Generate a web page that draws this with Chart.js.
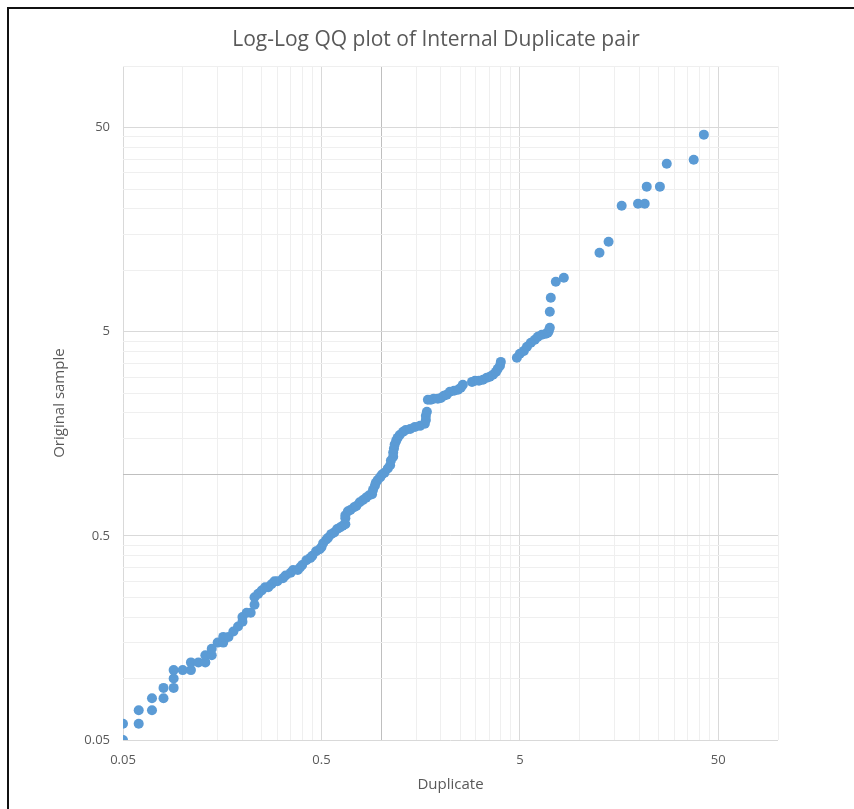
<!DOCTYPE html>
<html>
<head>
<meta charset="utf-8">
<title>Log-Log QQ plot</title>
<script src="https://cdn.jsdelivr.net/npm/chart.js@4.4.1/dist/chart.umd.min.js"></script>
<style>
    body { margin: 0; background: #fff; }
    .wrap { position: relative; width: 854px; height: 809px; overflow: hidden; }
    .frame { position: absolute; left: 7px; top: 7px; width: 900px; height: 900px;
             border-left: 2px solid #111; border-top: 2px solid #111; pointer-events: none; }
    canvas { position: absolute; left: 0; top: 0; }
</style>
</head>
<body>
<div class="wrap">
    <canvas id="qq" width="854" height="809"></canvas>
    <div class="frame"></div>
</div>
<script>
// quantiles (x = Duplicate, y = Original sample)
const duplicate = [
    0.05, 0.05, 0.06, 0.06, 0.07, 0.07, 0.08, 0.08, 0.09, 0.09,
    0.09, 0.10, 0.11, 0.11, 0.12, 0.13, 0.13, 0.14, 0.14, 0.15,
    0.16, 0.16, 0.17, 0.18, 0.19, 0.20, 0.20, 0.21, 0.22, 0.23,
    0.23, 0.24, 0.25, 0.26, 0.27, 0.28, 0.29, 0.30, 0.32, 0.33,
    0.35, 0.36, 0.38, 0.39, 0.40, 0.42, 0.44, 0.45, 0.47, 0.49,
    0.50, 0.51, 0.53, 0.54, 0.56, 0.58, 0.60, 0.62, 0.64, 0.66,
    0.66, 0.66, 0.68, 0.70, 0.73, 0.75, 0.78, 0.81, 0.84, 0.87,
    0.90, 0.91, 0.93, 0.94, 0.96, 0.99, 1.01, 1.04, 1.08, 1.11,
    1.12, 1.15, 1.15, 1.16, 1.17, 1.19, 1.21, 1.24, 1.29, 1.33,
    1.40, 1.48, 1.57, 1.66, 1.68, 1.68, 1.70, 1.72, 1.78, 1.84,
    1.93, 2.00, 2.07, 2.14, 2.22, 2.33, 2.44, 2.52, 2.58, 2.87,
    2.97, 3.11, 3.26, 3.41, 3.53, 3.66, 3.79, 3.87, 3.97, 4.01,
    4.83, 5.00, 5.24, 5.43, 5.68, 5.95, 6.16, 6.45, 6.76, 6.92,
    7.00, 7.08, 7.08, 7.16, 7.59, 8.33, 12.6, 14.0, 16.3, 19.7,
    21.3, 21.8, 25.4, 27.5, 37.6, 42.3
];
const originalSample = [
    0.05, 0.06, 0.06, 0.07, 0.07, 0.08, 0.08, 0.09, 0.09, 0.10,
    0.11, 0.11, 0.11, 0.12, 0.12, 0.12, 0.13, 0.13, 0.14, 0.15,
    0.15, 0.16, 0.16, 0.17, 0.18, 0.19, 0.20, 0.21, 0.21, 0.23,
    0.25, 0.26, 0.27, 0.28, 0.28, 0.29, 0.30, 0.30, 0.31, 0.32,
    0.33, 0.34, 0.34, 0.35, 0.36, 0.38, 0.39, 0.40, 0.42, 0.43,
    0.44, 0.46, 0.48, 0.49, 0.51, 0.52, 0.54, 0.55, 0.56, 0.57,
    0.61, 0.63, 0.66, 0.67, 0.69, 0.70, 0.73, 0.75, 0.77, 0.79,
    0.80, 0.84, 0.88, 0.91, 0.94, 0.97, 1.00, 1.02, 1.07, 1.11,
    1.17, 1.22, 1.28, 1.34, 1.40, 1.46, 1.51, 1.56, 1.62, 1.65,
    1.67, 1.71, 1.73, 1.77, 1.85, 1.94, 2.03, 2.32, 2.32, 2.35,
    2.35, 2.37, 2.43, 2.46, 2.54, 2.57, 2.60, 2.66, 2.75, 2.84,
    2.88, 2.88, 2.91, 2.98, 3.01, 3.08, 3.18, 3.29, 3.41, 3.56,
    3.73, 3.90, 4.03, 4.22, 4.42, 4.57, 4.73, 4.83, 4.89, 4.94,
    5.06, 5.23, 6.27, 7.34, 8.79, 9.20, 12.2, 13.8, 20.7, 21.2,
    21.2, 25.7, 25.7, 33.3, 34.8, 46.2
];

// labelled ticks, shared by both axes
const majorTicks = [0.05, 0.5, 5, 50];
const axisMin = 0.05;
const axisMax = 100;
const axisCross = 1;

document.addEventListener('DOMContentLoaded', () => {
    // gridlines: every multiple of the labelled tick inside each decade
    const gridValues = [];
    majorTicks.forEach(d => {
        for (let k = 1; k <= 9; k++) {
            const v = Number((d * k).toPrecision(6));
            if (v <= axisMax) gridValues.push(v);
        }
    });

    const points = duplicate.map((x, i) => ({ x: x, y: originalSample[i] }));

    const gridColor = ctx => {
        const v = ctx.tick ? ctx.tick.value : null;
        if (v === axisCross) return '#bfbfbf';
        if (majorTicks.includes(v)) return '#d9d9d9';
        return '#efefef';
    };
    const labelFor = value => majorTicks.includes(value) ? String(value) : '';

    const font = 'Open Sans';

    new Chart(document.getElementById('qq'), {
        type: 'scatter',
        data: {
            datasets: [{
                label: 'Original sample',
                data: points,
                backgroundColor: '#5b9bd5',
                borderWidth: 0,
                pointRadius: 5,
                pointHoverRadius: 5
            }]
        },
        options: {
            responsive: false,
            animation: false,
            layout: { padding: { left: 18, right: 0, top: 0, bottom: 0 } },
            plugins: {
                legend: { display: false },
                tooltip: { enabled: false },
                title: {
                    display: true,
                    text: 'Log-Log QQ plot of Internal Duplicate pair',
                    color: '#595959',
                    font: { family: font, size: 21, weight: 'normal', lineHeight: 1.2 },
                    padding: { top: 27, bottom: 14 }
                }
            },
            scales: {
                x: {
                    type: 'logarithmic',
                    min: axisMin,
                    max: axisMax,
                    afterBuildTicks: axis => { axis.ticks = gridValues.map(v => ({ value: v })); },
                    afterFit: axis => { axis.height = 69; },
                    ticks: {
                        autoSkip: false,
                        maxRotation: 0,
                        padding: 12,
                        color: '#595959',
                        font: { family: font, size: 13 },
                        callback: labelFor
                    },
                    grid: { color: gridColor, lineWidth: 1, drawTicks: false },
                    border: { display: false },
                    title: {
                        display: true,
                        text: 'Duplicate',
                        color: '#595959',
                        font: { family: font, size: 15, lineHeight: 1.2 },
                        padding: { top: 0, bottom: 15 }
                    }
                },
                y: {
                    type: 'logarithmic',
                    min: axisMin,
                    max: axisMax,
                    afterBuildTicks: axis => { axis.ticks = gridValues.map(v => ({ value: v })); },
                    afterFit: axis => { axis.width = 105; },
                    ticks: {
                        autoSkip: false,
                        padding: 13,
                        color: '#595959',
                        font: { family: font, size: 13 },
                        callback: labelFor
                    },
                    grid: { color: gridColor, lineWidth: 1, drawTicks: false },
                    border: { display: false },
                    title: {
                        display: true,
                        text: 'Original sample',
                        color: '#595959',
                        font: { family: font, size: 15, lineHeight: 1.2 },
                        padding: { top: 33, bottom: 0 }
                    }
                },
                // empty strip that keeps the plot clear of the right edge
                spacer: {
                    type: 'linear',
                    position: 'right',
                    display: true,
                    afterFit: axis => { axis.width = 76; },
                    ticks: { display: false },
                    grid: { display: false, drawTicks: false },
                    border: { display: false }
                }
            }
        }
    });
});
</script>
</body>
</html>
